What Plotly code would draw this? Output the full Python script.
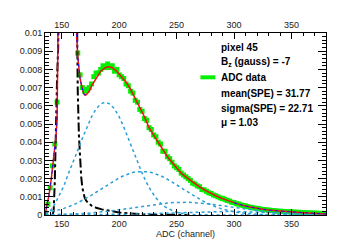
import plotly.graph_objects as go

# ---------------- data ----------------
adc_bins = list(range(136, 381, 2))
adc_counts = [
    0.0001, 0.0006, 0.0015, 0.0027, 0.0039, 0.0062, 0.012, 0.03, 0.05, 0.06,
    0.06, 0.05, 0.035, 0.015, 0.0089, 0.0077, 0.0070, 0.0068, 0.0069, 0.0070,
    0.0072, 0.0076, 0.0078, 0.0078, 0.0080, 0.0082, 0.0081, 0.0083, 0.0081, 0.0082,
    0.0079, 0.0080, 0.0077, 0.0076, 0.0075, 0.0072, 0.0071, 0.0068, 0.0067, 0.0063,
    0.0062, 0.0058, 0.0057, 0.0053, 0.0052, 0.0048, 0.0047, 0.0044, 0.0043, 0.0040,
    0.0039, 0.0035, 0.0035, 0.0032, 0.0031, 0.0029, 0.0027, 0.0026, 0.0025, 0.0023,
    0.0022, 0.0021, 0.0020, 0.0019, 0.00175, 0.0017, 0.0016, 0.00155, 0.0014, 0.00138,
    0.0013, 0.00122, 0.00118, 0.0011, 0.00106, 0.0010, 0.00094, 0.0009, 0.00086, 0.0008,
    0.00077, 0.0007, 0.00068, 0.00062, 0.0006, 0.00055, 0.00052, 0.0005, 0.00046, 0.00043,
    0.0004, 0.00038, 0.00036, 0.00034, 0.00031, 0.0003, 0.00028, 0.00027, 0.00025, 0.00024,
    0.00023, 0.00021, 0.00021, 0.0002, 0.00019, 0.00018, 0.00018, 0.00017, 0.00016, 0.00015,
    0.00015, 0.00013, 0.00013, 0.00012, 0.00012, 0.00011, 0.00011, 0.0001, 0.0001, 0.00009,
    0.00009, 0.00008, 0.00008,
]

# total fit (red)
fit_x = [135.5, 137, 139, 141, 143, 145, 146, 146.5, 147, 147.5, 148, 150, 155, 160, 162,
         163, 164, 165, 166, 167, 168, 169, 170, 171, 172, 174, 176, 180, 184, 188,
         191, 194, 198, 202, 206, 210, 214, 218, 222, 226, 230, 234, 238, 242, 246,
         250, 254, 258, 262, 266, 270, 275, 280, 285, 290, 295, 300, 305, 310, 315,
         320, 325, 330, 335, 340, 345, 350, 355, 360, 365, 370, 375, 380]
fit_y = [0.0, 0.0004, 0.0011, 0.0020, 0.0031, 0.0043, 0.0052, 0.0065, 0.0080, 0.0093, 0.0105, 0.03, 0.06, 0.04, 0.02,
         0.0100, 0.0087, 0.0079, 0.0075, 0.0072, 0.0069, 0.0067, 0.0066, 0.0066, 0.00665, 0.0068, 0.0071, 0.0075, 0.0079, 0.0081,
         0.00815, 0.0081, 0.0079, 0.0076, 0.0073, 0.0069, 0.0064, 0.0059, 0.0054, 0.0048, 0.0044, 0.0040, 0.0036, 0.0032, 0.0029,
         0.0026, 0.0023, 0.0021, 0.0019, 0.00172, 0.00155, 0.00135, 0.00118, 0.00103, 0.00090, 0.00078, 0.00067, 0.00057, 0.00049, 0.00042,
         0.00036, 0.00031, 0.00027, 0.00024, 0.00021, 0.00019, 0.00017, 0.00015, 0.00013, 0.00011, 0.00009, 0.00007, 0.00006]

# pedestal component (black dash-dot)
ped_x = [142, 143, 144, 145, 146, 147, 148, 150, 155, 160, 162, 163, 164, 165, 166, 167, 168, 169,
         170, 171, 173, 176, 180, 185, 190, 195, 200, 205, 210, 220, 230, 245, 260]
ped_y = [0.0, 0.0002, 0.0018, 0.0050, 0.0075, 0.0093, 0.0115, 0.02, 0.05, 0.04, 0.02, 0.0115, 0.0068, 0.0044, 0.0030, 0.0021, 0.0015, 0.00115,
         0.00095, 0.00082, 0.00066, 0.00052, 0.00040, 0.00031, 0.00024, 0.00018, 0.00014, 0.00011, 0.00008, 0.00004, 0.00002, 0.0, 0.0]

# n-photoelectron components (light blue)
pe_x = list(range(136, 381, 4))
pe1_y = [0.0, 0.0002, 0.0006, 0.0011, 0.0016, 0.0023, 0.0029, 0.00355, 0.00421, 0.00484, 0.0054, 0.00583, 0.0061, 0.0062,
         0.0061, 0.00583, 0.0054, 0.00484, 0.00421, 0.00355, 0.0029, 0.0023, 0.00176, 0.00131, 0.00095, 0.00066, 0.00045, 0.0003,
         0.00019, 0.000117, 0.00007, 0.00004, 0.000023, 0.000012, 0.000006, 0.000003, 0.0, 0.0, 0.0, 0.0, 0.0, 0.0,
         0.0, 0.0, 0.0, 0.0, 0.0, 0.0, 0.0, 0.0, 0.0, 0.0, 0.0, 0.0, 0.0, 0.0, 0.0, 0.0, 0.0, 0.0, 0.0, 0.0]
pe2_y = [0.000135, 0.000176, 0.000227, 0.00029, 0.000364, 0.00045, 0.00055, 0.00067, 0.0008, 0.00094, 0.00109, 0.00125, 0.00141, 0.00158,
         0.00174, 0.0019, 0.00204, 0.00216, 0.00226, 0.00234, 0.00238, 0.0024, 0.00238, 0.00234, 0.00226, 0.00216, 0.00204, 0.0019,
         0.00174, 0.00158, 0.00141, 0.00125, 0.00109, 0.00094, 0.0008, 0.00067, 0.00055, 0.00045, 0.000364, 0.00029, 0.000227, 0.000176,
         0.000135, 0.0001, 0.000076, 0.000056, 0.00004, 0.000029, 0.00002, 0.000014, 0.00001, 0.000007, 0.000005, 0.000003, 0.000002,
         0.000001, 0.0, 0.0, 0.0, 0.0, 0.0, 0.0]
pe3_y = [0.0000118, 0.0000155, 0.00002, 0.0000257, 0.0000327, 0.0000412, 0.0000514, 0.0000634, 0.0000777, 0.0000945, 0.000114,
         0.000136, 0.000161, 0.000189, 0.000219, 0.000252, 0.000288, 0.000326, 0.000365, 0.000405, 0.000445, 0.000484, 0.000524,
         0.000561, 0.000594, 0.000625, 0.000651, 0.000672, 0.000687, 0.000697, 0.0007, 0.000697, 0.000687, 0.000672, 0.000651,
         0.000625, 0.000594, 0.000561, 0.000524, 0.000484, 0.000445, 0.000405, 0.000365, 0.000326, 0.000288, 0.000252, 0.000219,
         0.000189, 0.000161, 0.000136, 0.000114, 0.0000945, 0.0000777, 0.0000634, 0.0000514, 0.0000412, 0.0000327, 0.0000257,
         0.00002, 0.0000155, 0.0000118, 0.000009]
pe4_y = [0.0000012, 0.0000015, 0.000002, 0.0000025, 0.0000032, 0.000004, 0.0000051, 0.0000064, 0.0000079, 0.0000097, 0.0000119,
         0.0000145, 0.0000175, 0.0000209, 0.0000249, 0.0000294, 0.0000345, 0.0000402, 0.0000465, 0.0000534, 0.000061, 0.0000691,
         0.0000777, 0.0000868, 0.0000964, 0.000106, 0.000116, 0.000126, 0.000136, 0.000146, 0.000156, 0.000165, 0.000173, 0.00018,
         0.000186, 0.000192, 0.000196, 0.000198, 0.0002, 0.0002, 0.000198, 0.000196, 0.000192, 0.000186, 0.00018, 0.000173,
         0.000165, 0.000156, 0.000146, 0.000136, 0.000126, 0.000116, 0.000106, 0.0000964, 0.0000868, 0.0000777, 0.0000691,
         0.000061, 0.0000534, 0.0000465, 0.0000402, 0.0000345]

y_tickvals = [0, 0.001, 0.002, 0.003, 0.004, 0.005, 0.006, 0.007, 0.008, 0.009, 0.01]
y_ticktext = ["0", "0.001", "0.002", "0.003", "0.004", "0.005", "0.006", "0.007", "0.008", "0.009", "0.01"]
x_tickvals = [150, 200, 250, 300, 350]

legend_lines = ["pixel 45", "B<sub>z</sub> (gauss) = -7", "ADC data",
                "mean(SPE) = 31.77", "sigma(SPE) = 22.71", "\u03bc = 1.03"]

# ---------------- figure ----------------
X_RANGE = [135.5, 380]
GREEN = "#00f000"
LBLUE = "#2a9fd6"
FONT = "Liberation Sans, Arial, sans-serif"

fig = go.Figure()
fig.add_trace(go.Scatter(x=adc_bins, y=adc_counts, mode="markers",
                         marker=dict(symbol="square", size=5, color=GREEN, line=dict(width=0)),
                         hoverinfo="skip"))
fig.add_trace(go.Scatter(x=ped_x, y=ped_y, mode="lines",
                         line=dict(color="black", width=2, dash="dashdot"), hoverinfo="skip"))
for ys in (pe1_y, pe2_y, pe3_y, pe4_y):
    fig.add_trace(go.Scatter(x=pe_x, y=ys, mode="lines",
                             line=dict(color=LBLUE, width=1.5, dash="dot"), hoverinfo="skip"))
fig.add_trace(go.Scatter(x=fit_x, y=fit_y, mode="lines",
                         line=dict(color="#ee1111", width=1.5), hoverinfo="skip"))
# blue dotted overlay visible on the steep pedestal part and in the tail
blue_y = [y if (x <= 172 or x >= 300) else None for x, y in zip(fit_x, fit_y)]
fig.add_trace(go.Scatter(x=fit_x, y=blue_y, mode="lines", connectgaps=False,
                         line=dict(color="#1010ff", width=1, dash="dot"), hoverinfo="skip"))
# dummy trace to create the top axis
fig.add_trace(go.Scatter(x=fit_x, y=fit_y, xaxis="x2", mode="lines",
                         line=dict(width=0), opacity=0, hoverinfo="skip"))

axis_common = dict(showgrid=False, zeroline=False, showline=True, linecolor="black", linewidth=1,
                   ticks="inside", tickcolor="black", tickwidth=1,
                   tickfont=dict(family=FONT, size=9, color="#222"))

fig.update_layout(
    width=354, height=241,
    margin=dict(l=36, r=36, t=24, b=24),
    paper_bgcolor="white", plot_bgcolor="white",
    showlegend=False,
    xaxis=dict(range=X_RANGE, tickvals=x_tickvals, ticklen=6,
               minor=dict(dtick=10, ticklen=3, ticks="inside", tickcolor="black"),
               title=dict(text="ADC (channel)", font=dict(family=FONT, size=9, color="#222"), standoff=2),
               **axis_common),
    xaxis2=dict(range=X_RANGE, overlaying="x", side="top", tickvals=x_tickvals, ticklen=6,
                minor=dict(dtick=10, ticklen=3, ticks="inside", tickcolor="black"),
                **axis_common),
    yaxis=dict(range=[0, 0.01], tickvals=y_tickvals, ticktext=y_ticktext, ticklen=8, mirror="ticks",
               minor=dict(dtick=0.0002, ticklen=4, ticks="inside", tickcolor="black"),
               **axis_common),
)

# text block (legend) in pixel positions converted to paper coords
plot_l, plot_r, plot_t, plot_b = 36, 318, 24, 217
def px(xp):
    return (xp - plot_l) / (plot_r - plot_l)
def py(yp):
    return (plot_b - yp) / (plot_b - plot_t)

text_y = [39, 55, 71, 88, 104, 119]
for t, yp in zip(legend_lines, text_y):
    fig.add_annotation(x=px(211), y=py(yp), xref="paper", yref="paper", text="<b>" + t + "</b>",
                       showarrow=False, xanchor="left", yanchor="middle",
                       font=dict(family=FONT, size=10, color="black"))
fig.add_shape(type="line", xref="paper", yref="paper", x0=px(192), x1=px(207), y0=py(71), y1=py(71),
              line=dict(color=GREEN, width=4))

fig.write_html("out.html")
